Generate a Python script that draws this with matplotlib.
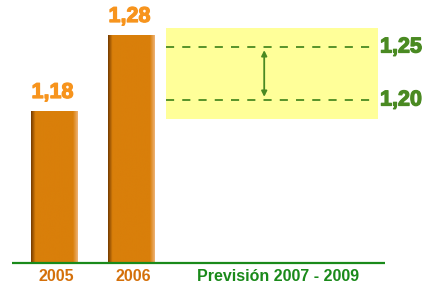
import numpy as np
import matplotlib.pyplot as plt
import matplotlib.patheffects as pe
from matplotlib.colors import to_rgb

years = ["2005", "2006"]
values = [1.18, 1.28]
forecast_label = "Previsión 2007 - 2009"
forecast_low = 1.20
forecast_high = 1.25

bar_color = "#D97F0A"
label_orange = "#F7941D"
year_color = "#D4700A"
green = "#4A8A22"
dark_green = "#1A8A1A"

plt.rcParams["font.family"] = ["Liberation Sans", "DejaVu Sans"]
plt.rcParams["font.weight"] = "bold"

fig = plt.figure(figsize=(4.25, 2.89), dpi=100)
ax = fig.add_axes([0, 26 / 289, 1, 263 / 289])
ax.axis("off")

x = np.arange(len(years))
w = 0.6
base = 0.98
bars = ax.bar(x, np.array(values) - base, bottom=base, width=w, color=bar_color)

# shaded look: darker left edge, lighter right edge
stops = [0, 0.09, 0.9, 1]
cols = np.array([to_rgb("#7A3E00"), to_rgb(bar_color), to_rgb(bar_color), to_rgb("#EDB070")])
t = np.linspace(0, 1, 60)
grad = np.stack([np.interp(t, stops, cols[:, i]) for i in range(3)], axis=-1)[None, :, :]

def thick(c):
    return [pe.withStroke(linewidth=0.9, foreground=c)]

for xi, v, b in zip(x, values, bars):
    im = ax.imshow(grad, extent=[xi - w / 2, xi + w / 2, base, v], aspect="auto", zorder=2)
    im.set_clip_path(b)
    ax.text(xi - 0.02, v + 8 / 760, f"{v:.2f}".replace(".", ","), ha="center", va="bottom",
            color=label_orange, fontsize=15.5, fontweight="bold", path_effects=thick(label_orange))

ax.set_xlim(-54 / 77, 371 / 77)
ax.set_ylim(base, base + 263 / 760)

# baseline
ax.hlines(base, -0.545, 4.30, color=dark_green, lw=1.6, clip_on=False, zorder=3)

# x labels
fx = 2.91
lab_y = base - 14 / 760
for xi, yr in zip(x, years):
    ax.text(xi + 0.03, lab_y, yr, ha="center", va="center", color=year_color,
            fontsize=11.5, fontweight="bold", clip_on=False)
ax.text(fx, lab_y, forecast_label, ha="center", va="center", color=dark_green,
        fontsize=11.5, fontweight="bold", clip_on=False)

# forecast range on its own schematic scale
ax2 = ax.twinx()
ax2.axis("off")
lo2 = forecast_low - 163 / 1060
ax2.set_ylim(lo2, lo2 + 263 / 1060)
pad = 0.018
ax2.fill_between([1.455, 4.21], forecast_low - pad, forecast_high + pad, color="#FFFF99", lw=0)
ax2.hlines([forecast_low, forecast_high], 1.455, 4.10, color=green, lw=1.3, linestyles=(0, (4.5, 4.5)))
ax2.annotate("", xy=(2.73, forecast_high - 0.003), xytext=(2.73, forecast_low + 0.003),
             arrowprops=dict(arrowstyle="<|-|>", color=green, lw=1.3, mutation_scale=8,
                             shrinkA=0, shrinkB=0))
for v in [forecast_high, forecast_low]:
    ax2.text(4.234, v, f"{v:.2f}".replace(".", ","), ha="left", va="center",
             color=green, fontsize=15.5, fontweight="bold", path_effects=thick(green))
ax2.set_xlim(-54 / 77, 371 / 77)

fig.savefig("out.png", dpi=100)
